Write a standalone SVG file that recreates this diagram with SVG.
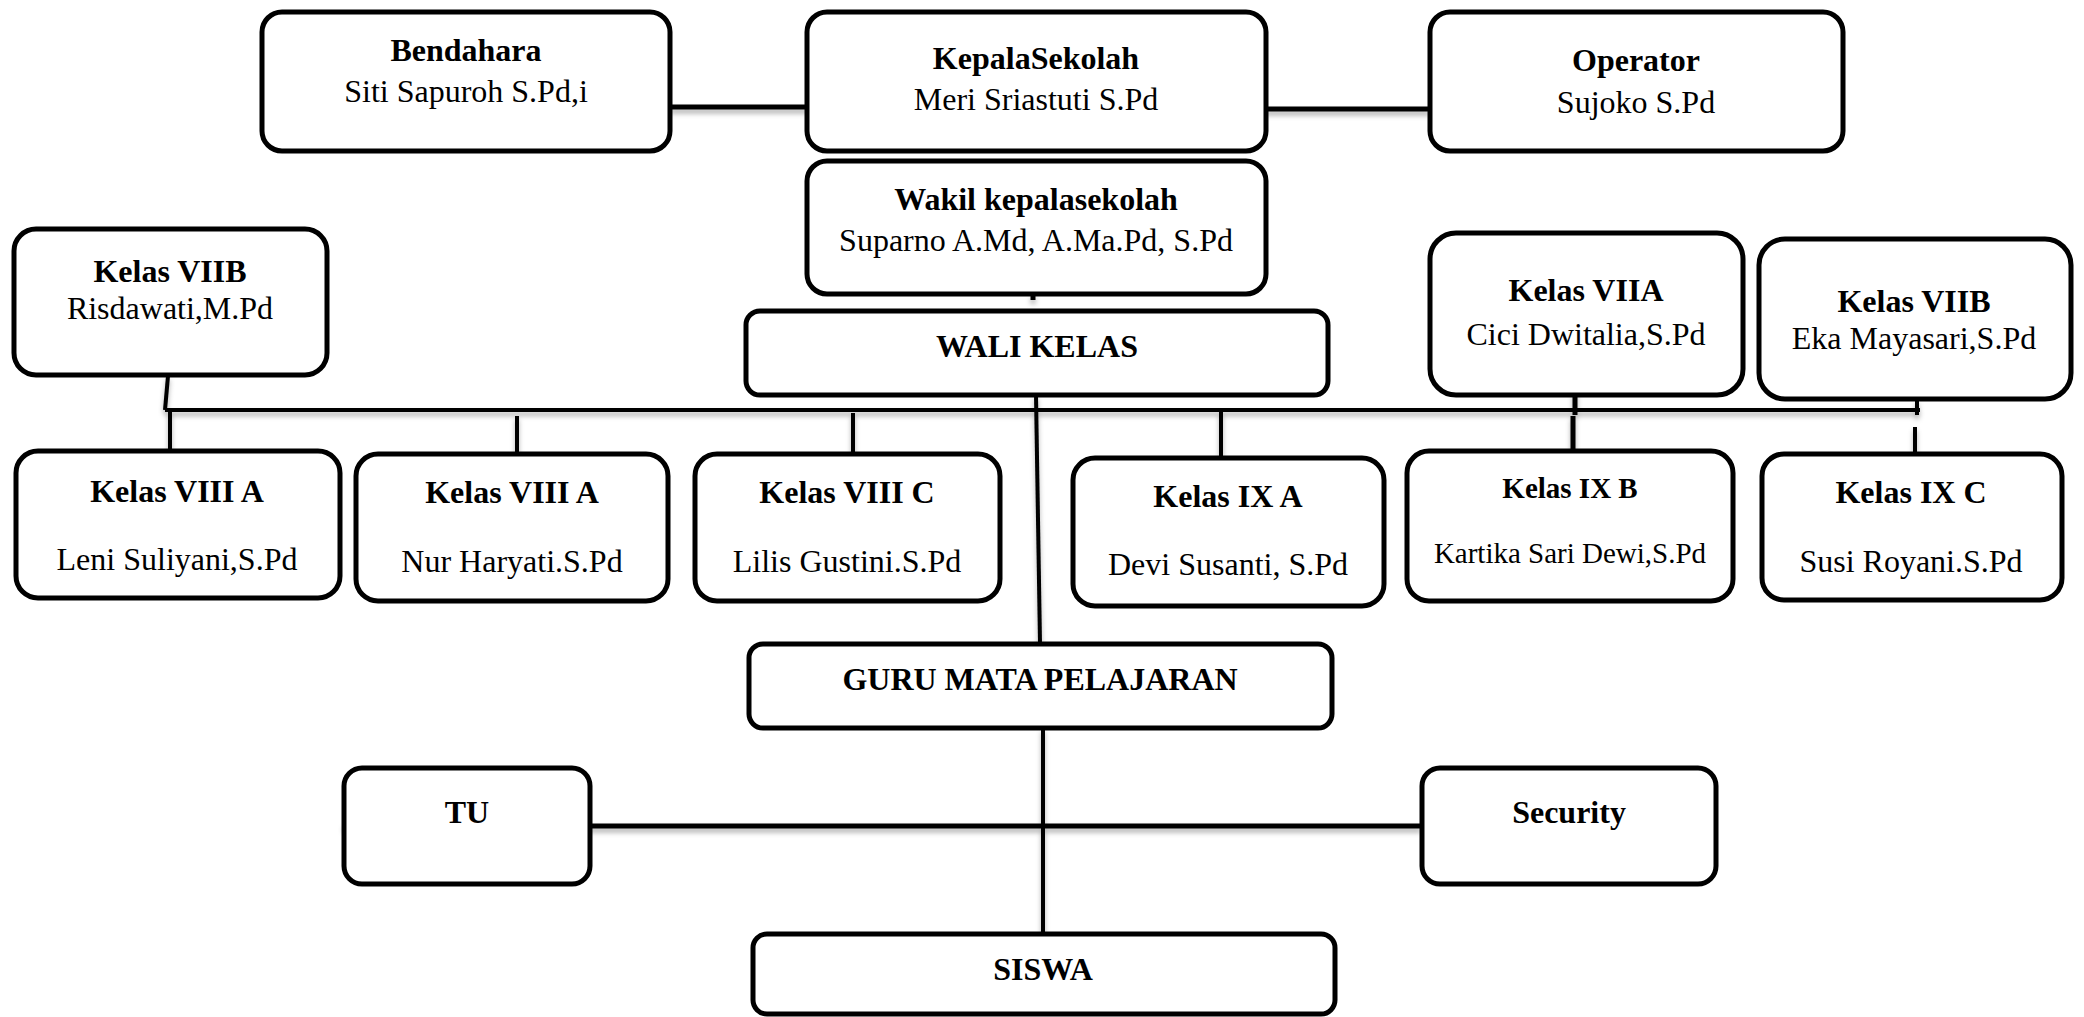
<svg xmlns="http://www.w3.org/2000/svg" width="2084" height="1017" viewBox="0 0 2084 1017">
<style>
.box{fill:#fff;stroke:#000;stroke-width:5}
.t{font-family:"Liberation Serif","Times New Roman",serif;font-size:32px;font-weight:bold;text-anchor:middle;fill:#000}
.n{font-family:"Liberation Serif","Times New Roman",serif;font-size:32px;text-anchor:middle;fill:#000}
.s{font-size:29px}
.c{stroke:#000;fill:none;stroke-linecap:butt}
</style>
<defs>
<filter id="sh" x="-5%" y="-50%" width="110%" height="200%">
<feDropShadow dx="0" dy="4" stdDeviation="2.5" flood-color="#000" flood-opacity="0.3"/>
</filter>
</defs>
<rect width="2084" height="1017" fill="#fff"/>
<g id="connectors" filter="url(#sh)">
<line class="c" x1="670" y1="107" x2="808" y2="107" stroke-width="5"/>
<line class="c" x1="1265" y1="109" x2="1430" y2="109" stroke-width="5"/>
<line class="c" x1="1033" y1="294" x2="1033" y2="300" stroke-width="5"/>
<line class="c" x1="168" y1="376" x2="165" y2="410" stroke-width="4"/>
<line class="c" x1="165" y1="410" x2="1920" y2="410" stroke-width="4"/>
<line class="c" x1="170" y1="410" x2="170" y2="451" stroke-width="4"/>
<line class="c" x1="517" y1="416" x2="517" y2="454" stroke-width="4"/>
<line class="c" x1="853" y1="413" x2="853" y2="455" stroke-width="4"/>
<line class="c" x1="1221" y1="412" x2="1221" y2="458" stroke-width="4"/>
<line class="c" x1="1575" y1="385" x2="1575" y2="415" stroke-width="5"/>
<line class="c" x1="1573" y1="416" x2="1573" y2="460" stroke-width="5"/>
<line class="c" x1="1917" y1="400" x2="1917" y2="415" stroke-width="4"/>
<line class="c" x1="1915" y1="427" x2="1915" y2="471" stroke-width="4"/>
<line class="c" x1="1036" y1="395" x2="1040" y2="643" stroke-width="4"/>
<line class="c" x1="343" y1="826" x2="1421" y2="826" stroke-width="5"/>
<line class="c" x1="1043" y1="728" x2="1043" y2="934" stroke-width="4"/>
</g>
<g id="bendahara"><rect class="box" x="262" y="12" width="408" height="139" rx="20"/><text class="t" x="466" y="61">Bendahara</text><text class="n" x="466" y="102">Siti Sapuroh S.Pd,i</text></g>
<g id="kepala"><rect class="box" x="807" y="12" width="459" height="139" rx="20"/><text class="t" x="1036" y="69">KepalaSekolah</text><text class="n" x="1036" y="110">Meri Sriastuti S.Pd</text></g>
<g id="operator"><rect class="box" x="1430" y="12" width="413" height="139" rx="20"/><text class="t" x="1636" y="71">Operator</text><text class="n" x="1636" y="113">Sujoko S.Pd</text></g>
<g id="wakil"><rect class="box" x="807" y="161" width="459" height="133" rx="20"/><text class="t" x="1036" y="210">Wakil kepalasekolah</text><text class="n" x="1036" y="251">Suparno A.Md, A.Ma.Pd, S.Pd</text></g>
<g id="walikelas"><rect class="box" x="746" y="311" width="582" height="84" rx="14"/><text class="t" x="1037" y="357">WALI KELAS</text></g>
<g id="kelas7b-left"><rect class="box" x="14" y="229" width="313" height="146" rx="22"/><text class="t" x="170" y="282">Kelas VIIB</text><text class="n" x="170" y="319">Risdawati,M.Pd</text></g>
<g id="kelas7a"><rect class="box" x="1430" y="233" width="313" height="162" rx="26"/><text class="t" x="1586" y="301">Kelas VIIA</text><text class="n" x="1586" y="345">Cici Dwitalia,S.Pd</text></g>
<g id="kelas7b-right"><rect class="box" x="1759" y="239" width="312" height="160" rx="26"/><text class="t" x="1914" y="312">Kelas VIIB</text><text class="n" x="1914" y="349">Eka Mayasari,S.Pd</text></g>
<g id="kelas8a-1"><rect class="box" x="16" y="451" width="324" height="147" rx="22"/><text class="t" x="177" y="502">Kelas VIII A</text><text class="n" x="177" y="570">Leni Suliyani,S.Pd</text></g>
<g id="kelas8a-2"><rect class="box" x="356" y="454" width="312" height="147" rx="22"/><text class="t" x="512" y="503">Kelas VIII A</text><text class="n" x="512" y="572">Nur Haryati.S.Pd</text></g>
<g id="kelas8c"><rect class="box" x="695" y="454" width="305" height="147" rx="22"/><text class="t" x="847" y="503">Kelas VIII C</text><text class="n" x="847" y="572">Lilis Gustini.S.Pd</text></g>
<g id="kelas9a"><rect class="box" x="1073" y="458" width="311" height="148" rx="22"/><text class="t" x="1228" y="507">Kelas IX A</text><text class="n" x="1228" y="575">Devi Susanti, S.Pd</text></g>
<g id="kelas9b"><rect class="box" x="1407" y="451" width="326" height="150" rx="22"/><text class="t s" x="1570" y="498">Kelas IX B</text><text class="n s" x="1570" y="563">Kartika Sari Dewi,S.Pd</text></g>
<g id="kelas9c"><rect class="box" x="1762" y="454" width="300" height="146" rx="22"/><text class="t" x="1911" y="503">Kelas IX C</text><text class="n" x="1911" y="572">Susi Royani.S.Pd</text></g>
<g id="guru"><rect class="box" x="749" y="644" width="583" height="84" rx="14"/><text class="t" x="1040" y="690">GURU MATA PELAJARAN</text></g>
<g id="tu"><rect class="box" x="344" y="768" width="246" height="116" rx="18"/><text class="t" x="467" y="823">TU</text></g>
<g id="security"><rect class="box" x="1422" y="768" width="294" height="116" rx="18"/><text class="t" x="1569" y="823">Security</text></g>
<g id="siswa"><rect class="box" x="753" y="934" width="582" height="80" rx="14"/><text class="t" x="1043" y="980">SISWA</text></g>
</svg>
